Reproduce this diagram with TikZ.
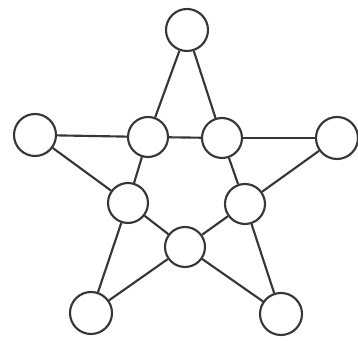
\documentclass[tikz,border=0pt]{standalone}
\usepackage{tikz}
\definecolor{edgegray}{RGB}{55,55,55}
\tikzset{
    vertex/.style={
        circle,
        draw=edgegray,
        fill=white,
        line width=1.6pt,
        minimum size=30pt,
        inner sep=0pt
    },
    outervertex/.style={vertex, minimum size=31.5pt},
    edge/.style={line width=1.6pt, draw=edgegray},
}

\begin{document}
\begin{tikzpicture}[x=0.75pt, y=-0.75pt]
    \useasboundingbox (0,0) rectangle (358,341);

    % Outer points of the star
    \node[outervertex] (top) at (187,30) {};
    \node[outervertex] (left) at (35,135) {};
    \node[outervertex] (right) at (337,138) {};
    \node[outervertex] (botleft) at (91,313) {};
    \node[outervertex] (botright) at (281,314) {};

    % Inner pentagon
    \node[vertex] (intl) at (148,137) {};
    \node[vertex] (intr) at (222,138) {};
    \node[vertex] (inl) at (128,203) {};
    \node[vertex] (inr) at (245,204) {};
    \node[vertex] (inb) at (185,247) {};

    % Pentagon edges
    \draw[edge] (intl) -- (intr);
    \draw[edge] (intr) -- (inr);
    \draw[edge] (inr) -- (inb);
    \draw[edge] (inb) -- (inl);
    \draw[edge] (inl) -- (intl);

    % Star tips
    \draw[edge] (top) -- (intl);
    \draw[edge] (top) -- (intr);
    \draw[edge] (left) -- (intl);
    \draw[edge] (left) -- (inl);
    \draw[edge] (right) -- (intr);
    \draw[edge] (right) -- (inr);
    \draw[edge] (botleft) -- (inl);
    \draw[edge] (botleft) -- (inb);
    \draw[edge] (botright) -- (inr);
    \draw[edge] (botright) -- (inb);
\end{tikzpicture}
\end{document}
